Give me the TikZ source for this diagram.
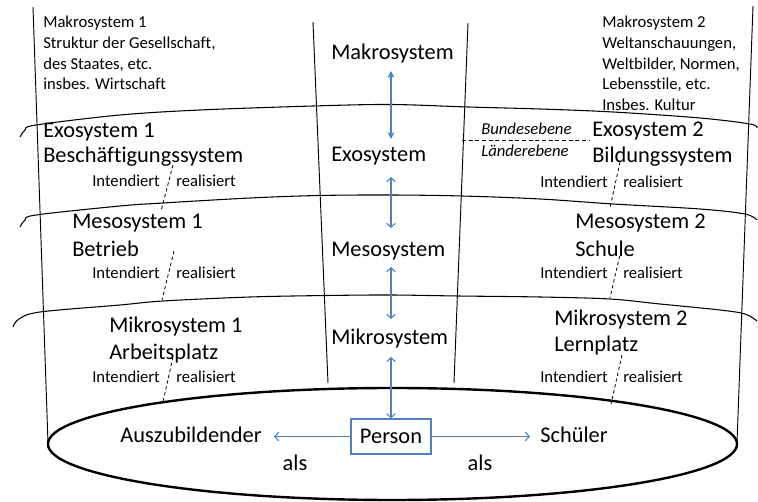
\documentclass[tikz,border=0pt]{standalone}
\usepackage{fontspec}
\setmainfont{Carlito}[Ligatures=NoCommon]
\usetikzlibrary{arrows.meta,calc}
\definecolor{myblue}{RGB}{79,129,189}
\tikzset{
  small/.style={font=\fontsize{12.5}{15}\selectfont, inner sep=0pt, anchor=base west},
  smallit/.style={small, font=\fontsize{12.5}{15}\selectfont\itshape},
  big/.style={font=\fontsize{16.8}{19}\selectfont, inner sep=0pt, anchor=base west},
  thinline/.style={line width=0.7pt},
  band/.style={line width=0.8pt},
  dashln/.style={line width=0.6pt, dash pattern=on 2.5pt off 2pt},
  blueline/.style={draw=myblue, line width=0.8pt},
  openarr/.style={blueline, {Straight Barb[length=3pt,width=6.5pt]}-{Straight Barb[length=3pt,width=6.5pt]}},
  fillarr/.style={blueline, {Stealth[length=5pt,width=5pt,inset=1.2pt]}-{Stealth[length=5pt,width=5pt,inset=1.2pt]}},
  onearr/.style={blueline, -{Straight Barb[length=3pt,width=6.5pt]}}
}
\begin{document}
\begin{tikzpicture}[x=0.75pt,y=-0.75pt]
\useasboundingbox (0,0) rectangle (758,502);

% vertical lines
\draw[thinline] (33,7) -- (48,443);
\draw[thinline] (753,6) -- (737,443);
\draw[thinline] (313,22) -- (328,383);
\draw[thinline] (468,23) -- (454,383);

% band boundaries
\draw[band] plot[smooth, tension=0.55] coordinates {(20,137) (25,130) (36,125) (120,115) (200,110) (313,106) (391,104.5) (468,107) (540,109) (613,112) (700,118) (750,124) (757,128)};
\draw[band] plot[smooth, tension=0.55] coordinates {(20,227) (25,220) (36,215) (120,206) (163,203) (250,198) (319,195.5) (391,195) (462,196) (540,199) (613,204) (700,209) (745,214) (757,220)};
\draw[band] plot[smooth, tension=0.55] coordinates {(13,327) (19,319) (40,312) (120,305) (163,301) (250,297) (327,295.5) (391,295) (458,296) (540,297) (610,299) (660,304) (720,310) (745,314) (757,321)};

% base ellipse
\draw[line width=1.8pt] (392.5,444) ellipse [x radius=258.4pt, y radius=42pt];

% dashed lines
\draw[dashln] (173,165) -- (161,211);
\draw[dashln] (174,251) -- (162,300);
\draw[dashln] (173,357) -- (163,402);
\draw[dashln] (620,162) -- (610,208);
\draw[dashln] (621,250) -- (610,298);
\draw[dashln] (622,355) -- (611,404);
\draw[dashln, dash pattern=on 3pt off 2pt] (462,140) -- (590,140);

% Makrosystem 1 text
\node[small] (mka) at (43,28) {Makrosystem 1};
\node[small] (mkb) at (43,49) {Struktur der Gesellschaft,};
\node[small] (mkc) at (43,70) {des Staates, etc.};
\node[small] (mkd) at (43,90) {insbes. Wirtschaft};

% Makrosystem 2 text
\node[small] (mke) at (602,28) {Makrosystem 2};
\node[small] (mkf) at (602,49) {Weltanschauungen,};
\node[small] (mkg) at (602,69.5) {Weltbilder, Normen,};
\node[small] (mkh) at (602,90) {Lebensstile, etc.};
\node[small] (mki) at (602,110.5) {Insbes. Kultur};

% left column
\node[big] (exoa) at (43,138) {Exosystem 1};
\node[big] (exob) at (43,163) {Beschäftigungssystem};
\node[small] (ia) at (92,187) {Intendiert};
\node[small] (ra) at (176,187) {realisiert};
\node[big] (mesa) at (72,229) {Mesosystem 1};
\node[big] (mesb) at (72,257) {Betrieb};
\node[small] (ib) at (92,279) {Intendiert};
\node[small] (rb) at (176,279) {realisiert};
\node[big] (mika) at (109,333) {Mikrosystem 1};
\node[big] (mikb) at (109,360) {Arbeitsplatz};
\node[small] (ic) at (92,383) {Intendiert};
\node[small] (rc) at (176,383) {realisiert};

% right column
\node[smallit] (bund) at (481,135) {Bundesebene};
\node[smallit] (land) at (481,157) {Länderebene};
\node[big] (exoc) at (592,137) {Exosystem 2};
\node[big] (exod) at (592,163) {Bildungssystem};
\node[small] (id) at (540,188) {Intendiert};
\node[small] (rd) at (623,188) {realisiert};
\node[big] (mesc) at (575,229) {Mesosystem 2};
\node[big] (mesd) at (575,257) {Schule};
\node[small] (ie) at (540,279) {Intendiert};
\node[small] (re) at (623,279) {realisiert};
\node[big] (mikc) at (554,326) {Mikrosystem 2};
\node[big] (mikd) at (554,352) {Lernplatz};
\node[small] (if) at (540,383) {Intendiert};
\node[small] (rf) at (623,383) {realisiert};

% centre column
\coordinate (axis) at (391,0);
\node[big] (makro) at (331,60) {Makrosystem};
\node[big] (exo) at (331,162) {Exosystem};
\node[big] (meso) at (331,257) {Mesosystem};
\node[big] (mikro) at (331,345) {Mikrosystem};
\node[big, anchor=center, draw=myblue, line width=0.9pt, minimum width=60pt, minimum height=26.25pt] (person) at (391,436.5) {Person};
\node[big, anchor=base east] (azubi) at (262,443) {Auszubildender};
\node[big] (schueler) at (540,443) {Schüler};
\node[big, anchor=base] (alsa) at (295,471) {als};
\node[big, anchor=base] (alsb) at (480,471) {als};

% arrows
\draw[fillarr] ($(axis |- makro.base)+(0,11)$) -- ($(axis |- exo.base)+(0,-23)$);
\draw[openarr] ($(axis |- exo.base)+(0,15)$) -- ($(axis |- meso.base)+(0,-29)$);
\draw[openarr] ($(axis |- meso.base)+(0,10)$) -- ($(axis |- mikro.base)+(0,-26)$);
\draw[openarr] ($(axis |- mikro.base)+(0,12)$) -- (person.north);
\draw[onearr] (person.west) -- ($(person.west -| azubi.east)+(12,0)$);
\draw[onearr] (person.east) -- ($(person.east -| schueler.west)+(-10,0)$);
\end{tikzpicture}
\end{document}
